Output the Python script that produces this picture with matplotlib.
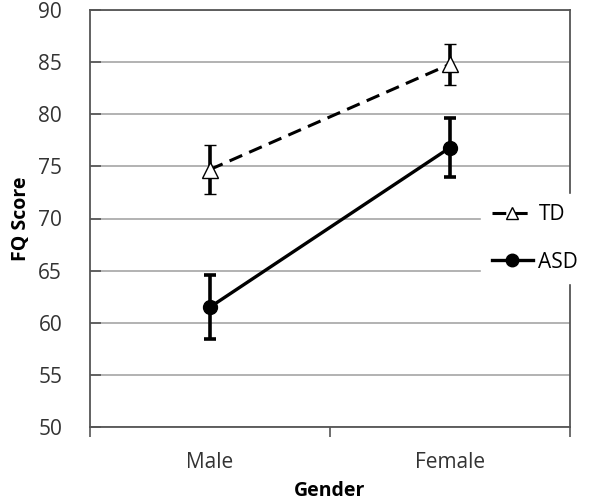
import numpy as np
import matplotlib.pyplot as plt
from matplotlib.lines import Line2D

plt.rcParams['font.family'] = ['Open Sans', 'DejaVu Sans']

genders = ["Male", "Female"]
td_mean = [74.7, 84.8]
td_err = [2.35, 1.95]
asd_mean = [61.5, 76.8]
asd_err = [3.05, 2.8]

fig = plt.figure(figsize=(6, 5), dpi=100)
ax = fig.add_axes([0.15, 0.146, 0.80, 0.834])

x = np.arange(1, len(genders) + 1)
td_style = dict(color="black", linestyle=(0, (4.5, 2.5)), linewidth=2.2,
                marker="^", markerfacecolor="white",
                markeredgecolor="black", markeredgewidth=1)
asd_style = dict(color="black", linestyle="-", linewidth=2.4,
                 marker="o", markerfacecolor="black",
                 markeredgecolor="black")

ax.errorbar(x, td_mean, yerr=td_err, elinewidth=2.6, capsize=4, capthick=2.6,
            markersize=11, zorder=3, **td_style)
ax.errorbar(x, asd_mean, yerr=asd_err, elinewidth=2.6, capsize=4, capthick=2.6,
            markersize=10, zorder=3, **asd_style)

ax.set_xlim(0.5, 2.5)
ax.set_ylim(50, 90)
ax.set_yticks(np.arange(50, 91, 5))
ax.yaxis.grid(True, color="#a6a6a6", linewidth=1.2)
ax.set_axisbelow(True)

ax.set_xticks(x)
ax.set_xticklabels(genders)
ax.set_xticks([0.5, 1.5, 2.5], minor=True)
ax.tick_params(axis="x", which="major", length=0, pad=18, labelsize=15, colors="#333333")
ax.tick_params(axis="x", which="minor", length=7, width=1.2, direction="out", color="#555555")
ax.tick_params(axis="y", length=8, width=1.2, direction="in", color="#555555",
               labelsize=15, labelcolor="#333333", pad=20)

for s in ax.spines.values():
    s.set_color("#555555")
    s.set_linewidth(1.3)

ax.set_xlabel("Gender", fontsize=14, fontweight="bold", labelpad=6)
ax.set_ylabel("FQ Score", fontsize=14, fontweight="bold", labelpad=5)

handles = [Line2D([], [], markersize=9, **td_style),
           Line2D([], [], markersize=9, **asd_style)]
leg = ax.legend(handles, ["TD", "ASD"], loc="center left",
                bbox_to_anchor=(0.815, 0.452), frameon=True,
                facecolor="white", edgecolor="white", framealpha=1,
                fontsize=15, handlelength=2.0, borderpad=0.5, labelspacing=1.25,
                handletextpad=0.25, borderaxespad=0)
leg.set_zorder(5)

fig.savefig("out.png", dpi=100)
